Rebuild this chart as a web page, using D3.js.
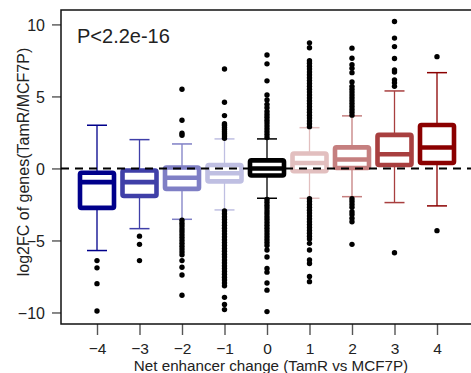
<!DOCTYPE html>
<html>
<head>
<meta charset="utf-8">
<script src="https://cdn.jsdelivr.net/npm/d3@7"></script>
<style>
  body { margin: 0; background: #fff; }
  text { font-family: "Liberation Sans", Arial, sans-serif; }
</style>
</head>
<body>
<svg id="fig_box" width="471" height="373"></svg>
<script>

// net enhancer change groups
var categories = [-4, -3, -2, -1, 0, 1, 2, 3, 4];
var q1         = [-2.74, -1.91, -1.42, -0.90, -0.49, -0.20, 0.03, 0.24, 0.38];
var medians    = [-0.95, -0.95, -0.65, -0.33, 0.00, 0.38, 0.62, 0.98, 1.45];
var q3         = [-0.30, -0.14, 0.07, 0.24, 0.56, 1.04, 1.46, 2.33, 3.02];
var whiskLo    = [-5.70, -4.18, -3.53, -2.88, -2.07, -2.07, -1.96, -2.37, -2.60];
var whiskHi    = [3.00, 2.00, 1.70, 2.05, 2.05, 2.83, 3.65, 5.38, 6.65];

// outliers per group
var outliers = [
    [-6.4, -6.9, -8.0, -9.9],
    [-4.7, -5.27, -6.4],
    [2.3, 2.45, 3.35, 5.5,
     -3.6, -3.8, -4.0, -4.2, -4.4, -4.6, -4.8, -5.0, -5.2, -5.4, -5.6, -5.8, -6.0,
     -6.4, -6.86, -7.4, -8.8],
    [2.1, 2.25, 2.4, 2.55, 2.7, 2.85, 3.0, 3.1, 3.67, 4.6, 6.9,
     -2.95, -3.15, -3.35, -3.55, -3.75, -3.95, -4.15, -4.35, -4.55, -4.75, -4.95, -5.15,
     -5.35, -5.55, -5.75, -5.95, -6.15, -6.35, -6.55, -6.75, -6.95, -7.15, -7.35, -7.55,
     -7.75, -7.95, -8.15, -8.95, -9.45, -9.8],
    [2.15, 2.35, 2.55, 2.75, 2.95, 3.15, 3.35, 3.55, 3.75, 3.95, 4.22, 4.45, 4.76, 5.1,
     6.08, 7.26, 7.88,
     -2.15, -2.35, -2.55, -2.75, -2.95, -3.15, -3.35, -3.55, -3.75, -3.95, -4.15, -4.35,
     -4.55, -4.75, -4.95, -5.15, -5.35, -5.66, -6.15, -6.95, -7.2, -7.95, -8.45, -9.94],
    [2.9, 3.1, 3.3, 3.5, 3.7, 3.9, 4.1, 4.3, 4.5, 4.7, 4.9, 5.1, 5.3, 5.5, 5.7, 5.9, 6.1,
     6.3, 6.5, 6.7, 6.9, 7.1, 7.3, 7.48, 8.38, 8.72,
     -2.1, -2.3, -2.5, -2.7, -2.9, -3.1, -3.3, -3.5, -3.7, -3.9, -4.1, -4.3, -4.5, -4.7,
     -4.9, -5.2, -5.66, -6.35, -6.6, -7.5, -7.86],
    [3.7, 3.9, 4.1, 4.3, 4.5, 4.7, 4.9, 5.1, 5.3, 5.5, 5.7, 6.0, 6.65, 6.95, 7.2, 7.65, 8.35,
     -2.1, -2.3, -2.5, -2.7, -3.0, -3.2, -3.45, -3.7, -5.27],
    [5.7, 5.95, 6.15, 6.7, 6.84, 7.63, 8.46, 9.05, 10.2, -5.85],
    [7.76, -4.32]
];

var yTicks = [-10, -5, 0, 5, 10];
var pLabel = "P<2.2e-16";
var xTitle = "Net enhancer change (TamR vs MCF7P)";
var yTitle = "log2FC of genes(TamR/MCF7P)";

// blue -> white ramp, black for 0, white -> red ramp
var colors = ["#00008B", "#3F3FA8", "#7F7FC5", "#BFBFE2", "#000000",
              "#E2BFBF", "#C57F7F", "#A83F3F", "#8B0000"];

function draw_boxes(){

    var svg = d3.select("#fig_box");
    var left = 61, top = 10, bottom = 324, right = 471;

    var x = d3.scaleLinear().domain([-4, 4]).range([97, 437]);
    var y = d3.scaleLinear().domain([-10.8, 11.0]).range([bottom, top]);

    var boxHalf = 17, capHalf = 10;

    function fmt(v){ return (v < 0 ? "\u2212" : "") + Math.abs(v); }

    // y axis
    var yAxis = svg.append("g")
        .attr("transform", "translate(" + left + ",0)")
        .call(d3.axisLeft(y).tickValues(yTicks).tickSize(9).tickPadding(7).tickFormat(fmt));
    yAxis.select(".domain").remove();
    yAxis.selectAll(".tick line").attr("stroke", "#555").attr("stroke-width", 1.4);
    yAxis.selectAll(".tick text").attr("fill", "#222").style("font-size", "16px")
        .attr("dy", "0.36em").attr("font-family", null);

    // x axis
    var xAxis = svg.append("g")
        .attr("transform", "translate(0," + bottom + ")")
        .call(d3.axisBottom(x).tickValues(categories).tickSize(11).tickPadding(8).tickFormat(fmt));
    xAxis.select(".domain").remove();
    xAxis.selectAll(".tick line").attr("stroke", "#555").attr("stroke-width", 1.4);
    xAxis.selectAll(".tick text").attr("fill", "#222").style("font-size", "15.5px")
        .attr("font-family", null);

    // frame (right side falls outside the picture)
    svg.append("path")
        .attr("d", "M" + right + "," + top + "H" + left + "V" + bottom + "H" + right)
        .attr("fill", "none").attr("stroke", "#111").attr("stroke-width", 1.5);

    var g = svg.append("g");
    categories.forEach(function(c, i){
        var cx = x(c), col = colors[i];
        // whiskers
        g.append("line").attr("x1", cx).attr("x2", cx).attr("y1", y(q3[i])).attr("y2", y(whiskHi[i]))
            .attr("stroke", col).attr("stroke-width", 1.3);
        g.append("line").attr("x1", cx).attr("x2", cx).attr("y1", y(q1[i])).attr("y2", y(whiskLo[i]))
            .attr("stroke", col).attr("stroke-width", 1.3);
        g.append("line").attr("x1", cx - capHalf).attr("x2", cx + capHalf)
            .attr("y1", y(whiskHi[i])).attr("y2", y(whiskHi[i]))
            .attr("stroke", col).attr("stroke-width", 1.5);
        g.append("line").attr("x1", cx - capHalf).attr("x2", cx + capHalf)
            .attr("y1", y(whiskLo[i])).attr("y2", y(whiskLo[i]))
            .attr("stroke", col).attr("stroke-width", 1.5);
        // box
        g.append("rect")
            .attr("x", cx - boxHalf).attr("width", 2 * boxHalf)
            .attr("y", y(q3[i])).attr("height", y(q1[i]) - y(q3[i]))
            .attr("rx", 1.5)
            .attr("fill", "#fff").attr("stroke", col).attr("stroke-width", 4.6);
        g.append("line").attr("x1", cx - boxHalf).attr("x2", cx + boxHalf)
            .attr("y1", y(medians[i])).attr("y2", y(medians[i]))
            .attr("stroke", col).attr("stroke-width", 4.6);
        // outliers
        g.selectAll(null).data(outliers[i]).enter().append("circle")
            .attr("cx", cx).attr("cy", function(d){ return y(d); })
            .attr("r", 2.7).attr("fill", "#000");
    });

    // zero reference line
    svg.append("line")
        .attr("x1", left).attr("x2", right).attr("y1", y(0)).attr("y2", y(0))
        .attr("stroke", "#000").attr("stroke-width", 2).attr("stroke-dasharray", "8,6");

    svg.append("text")
        .attr("x", 77).attr("y", 42.7)
        .style("font-size", "20px").style("fill", "#222")
        .text(pLabel);

    svg.append("text")
        .attr("x", 271).attr("y", 371)
        .attr("text-anchor", "middle")
        .style("font-size", "15.2px").style("fill", "#222")
        .text(xTitle);

    svg.append("text")
        .attr("transform", "translate(29,162) rotate(-90)")
        .attr("text-anchor", "middle")
        .style("font-size", "16px").style("fill", "#222")
        .text(yTitle);
}

draw_boxes();

</script>
</body>
</html>
